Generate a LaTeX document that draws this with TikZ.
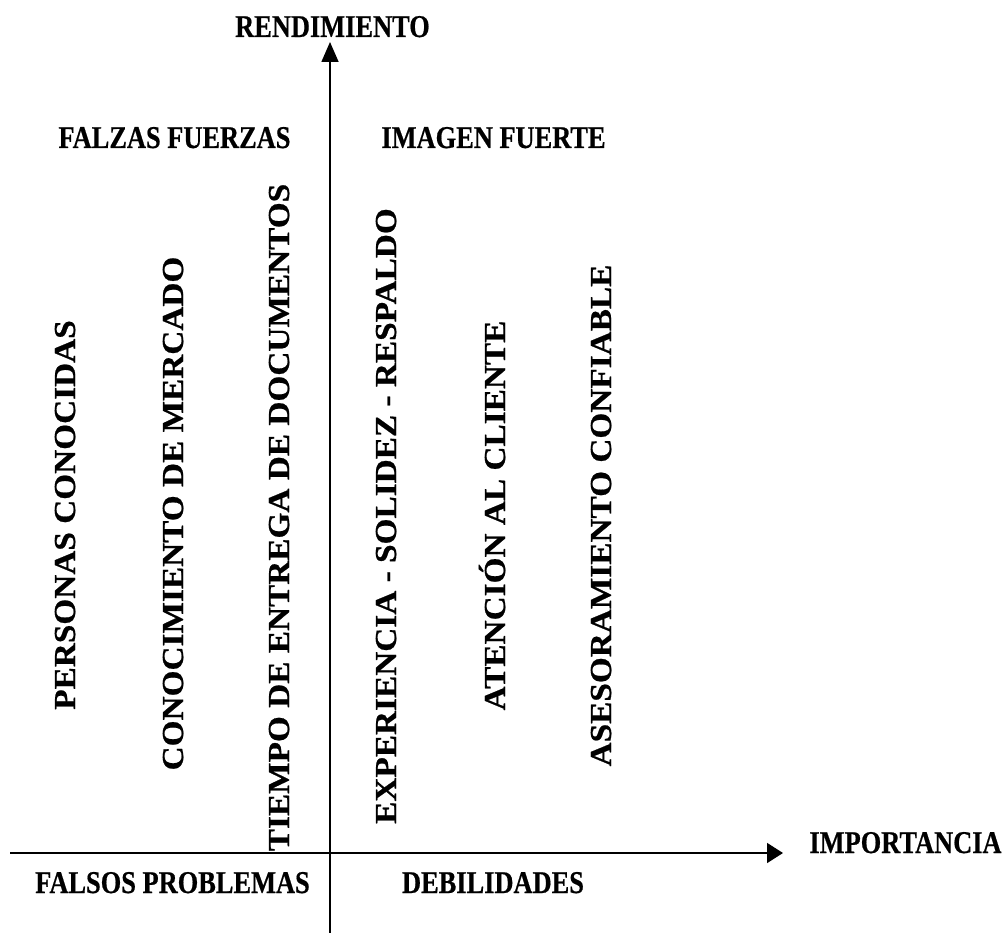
\documentclass[tikz,border=0pt]{standalone}
\usepackage{fontspec}
\usepackage{graphicx}
\setmainfont{Liberation Serif}[BoldFeatures={FakeBold=0.6}]
\usetikzlibrary{arrows.meta}
\newcommand\hsx[1]{\scalebox{1}[1.2]{#1}}
\newcommand\vsx[1]{\scalebox{1.092}[1]{#1}}
\tikzset{
  hlbl/.style={anchor=base, inner sep=0pt, font=\fontsize{26.4}{30}\selectfont\bfseries},
  vlbl/.style={anchor=base, inner sep=0pt, rotate=90, font=\fontsize{30.5}{34}\selectfont\bfseries},
  axisline/.style={line width=1.6pt}
}
\begin{document}
\begin{tikzpicture}[x=1pt,y=1pt]
\useasboundingbox (0,0) rectangle (1008,-933);
\fill[white] (0,0) rectangle (1008,-933);
% axes
\coordinate (vb) at (330,-933);
\coordinate (vt) at (330,-42);
\coordinate (hl) at (10,-853);
\coordinate (hr) at (783,-853);
\draw[axisline,-{Triangle[width=17pt,length=20pt]}] (vb) -- (vt);
\draw[axisline,-{Triangle[width=20pt,length=16pt]}] (hl) -- (hr);
% axis titles
\node[hlbl] (rend) at (332.5,-37) {\hsx{RENDIMIENTO}};
\node[hlbl] (imp) at (905.5,-853) {\hsx{IMPORTANCIA}};
% quadrant titles
\node[hlbl] (ff) at (174.5,-148) {\hsx{FALZAS FUERZAS}};
\node[hlbl] (if) at (493.5,-148) {\hsx{IMAGEN FUERTE}};
\node[hlbl] (fp) at (172.5,-893) {\hsx{FALSOS PROBLEMAS}};
\node[hlbl] (deb) at (493,-893) {\hsx{DEBILIDADES}};
% vertical items
\node[vlbl] (v1) at (75,-515) {\vsx{PERSONAS CONOCIDAS}};
\node[vlbl] (v2) at (183,-513.5) {\vsx{CONOCIMIENTO DE MERCADO}};
\node[vlbl] (v3) at (289,-517.5) {\vsx{TIEMPO DE ENTREGA DE DOCUMENTOS}};
\node[vlbl] (v4) at (396,-516) {\vsx{EXPERIENCIA - SOLIDEZ - RESPALDO}};
\node[vlbl] (v5) at (505,-515.5) {\vsx{ATENCIÓN AL CLIENTE}};
\node[vlbl] (v6) at (611,-515.5) {\vsx{ASESORAMIENTO CONFIABLE}};
\end{tikzpicture}
\end{document}
